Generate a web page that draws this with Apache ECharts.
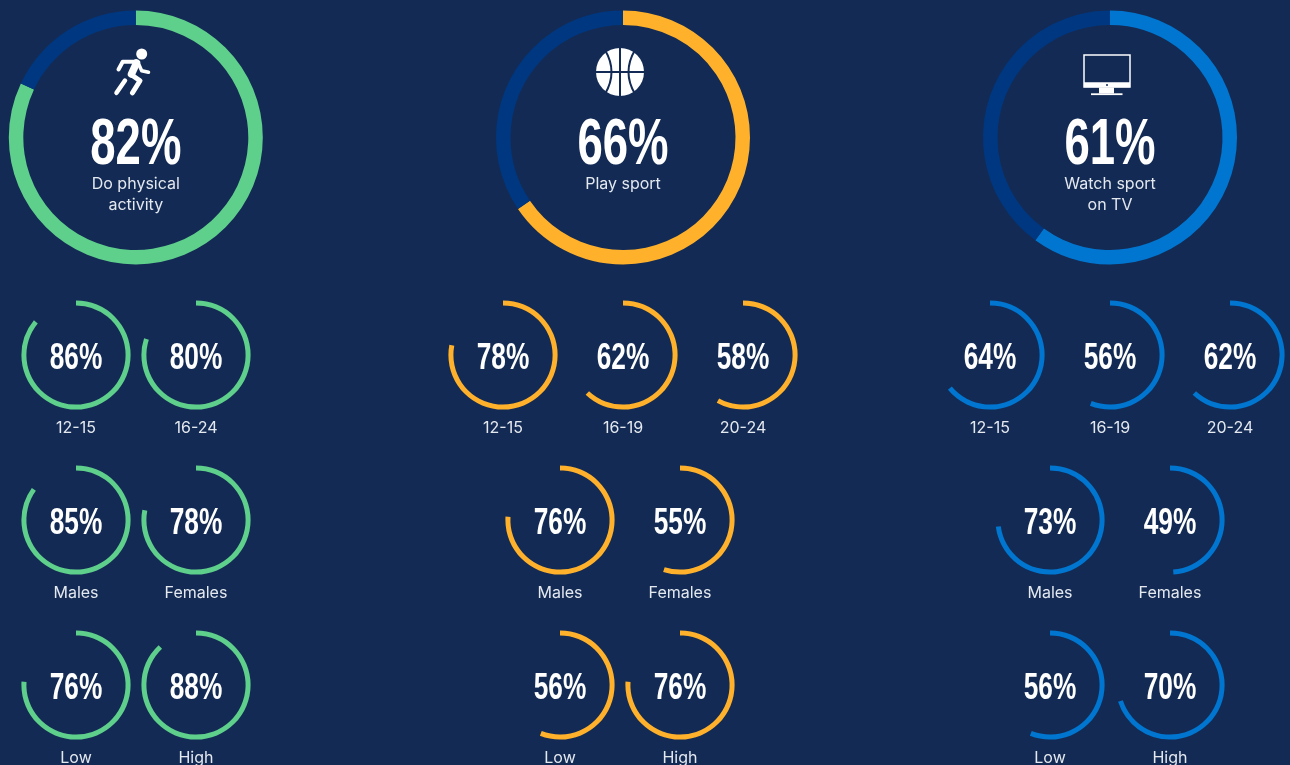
<!DOCTYPE html>
<html>
<head>
<meta charset="utf-8">
<style>
  html, body { margin: 0; padding: 0; background: #132b54; }
  #main { width: 1290px; height: 765px; }
</style>
<script src="https://cdn.jsdelivr.net/npm/echarts@6/dist/echarts.min.js"></script>
</head>
<body>
<div id="main"></div>
<script>
// headline values
const headTitles = [["Do physical", "activity"], ["Play sport"], ["Watch sport", "on TV"]];
const headValues = [82, 66, 61];
// the big arcs in the picture stop a little short of their printed numbers
const headArcs = [82, 65.5, 60];

// breakdown rows, one list per column
const ageLabels = [["12-15", "16-24"], ["12-15", "16-19", "20-24"], ["12-15", "16-19", "20-24"]];
const ageValues = [[86, 80], [78, 62, 58], [64, 56, 62]];
const genderLabels = ["Males", "Females"];
const genderValues = [[85, 78], [76, 55], [73, 49]];
const incomeLabels = ["Low", "High"];
const incomeValues = [[76, 88], [56, 76], [56, 70]];

const BG = "#132b54";
const TRACK = "#003781";
const COLORS = ["#5fcf8c", "#ffb12b", "#0076d1"];
const WHITE = "#ffffff";
const LABEL = "#e4e8ef";

const headX = [135.8, 623, 1110];
const ageX = [[76, 196], [503, 623, 743], [990, 1110, 1230]];
const pairX = [[76, 196], [560, 680], [1050, 1170]];
const rowY = [355, 520, 685];

const series = [];
const graphic = [];

function numText(x, y, str, size, scaleX) {
  graphic.push({
    type: "text", x: x, y: y, scaleX: scaleX, silent: true,
    style: {
      text: str, fill: WHITE, align: "center", verticalAlign: "middle",
      font: "bold " + size + "px 'Liberation Sans Narrow', 'Liberation Sans'",
    },
  });
}

function labelText(x, y, str) {
  graphic.push({
    type: "text", x: x, y: y, silent: true,
    style: { text: str, fill: LABEL, align: "center", verticalAlign: "middle", font: "16px Inter" },
  });
}

function ring(x, y, radius, value, color, track) {
  series.push({
    type: "pie", silent: true, animation: false, startAngle: 90, clockwise: true,
    center: [x, y], radius: radius,
    label: { show: false }, labelLine: { show: false },
    data: [
      { value: value, itemStyle: { color: color } },
      { value: 100 - value, itemStyle: { color: track } },
    ],
  });
}

function small(x, y, value, label, color) {
  ring(x, y, [49.6, 54.6], value, color, "transparent");
  numText(x, y + 4, value + "%", 37, 0.71);
  labelText(x, y + 73, label);
}

headValues.forEach((v, i) => {
  ring(headX[i], 137.5, [112.5, 127], headArcs[i], COLORS[i], TRACK);
  numText(headX[i], 146, v + "%", 65, 0.7);
  headTitles[i].forEach((t, k) => labelText(headX[i], 184 + k * 21, t));

  ageValues[i].forEach((a, k) => small(ageX[i][k], rowY[0], a, ageLabels[i][k], COLORS[i]));
  genderValues[i].forEach((a, k) => small(pairX[i][k], rowY[1], a, genderLabels[k], COLORS[i]));
  incomeValues[i].forEach((a, k) => small(pairX[i][k], rowY[2], a, incomeLabels[k], COLORS[i]));
});

// runner icon
const limb = (pts, w) => ({
  type: "polyline", silent: true,
  shape: { points: pts },
  style: { stroke: WHITE, lineWidth: w, fill: null, lineCap: "round", lineJoin: "round" },
});
graphic.push(
  { type: "circle", silent: true, shape: { cx: 141.7, cy: 54, r: 5.5 }, style: { fill: WHITE } },
  limb([[118.5, 69.5], [122.7, 61.7], [136.7, 61.7]], 4),
  limb([[138.3, 63.3], [141.7, 70.7], [148.5, 72.3]], 3.5),
  limb([[136.5, 63], [131.5, 74]], 7.5),
  limb([[131.7, 75], [140, 80.7], [132.5, 92.8]], 5),
  limb([[125, 80.5], [116.5, 92.8]], 4.5)
);

// basketball icon
const seamLine = (x1, y1, x2, y2) => ({
  type: "line", silent: true,
  shape: { x1: x1, y1: y1, x2: x2, y2: y2 },
  style: { stroke: BG, lineWidth: 2 },
});
const seamCurve = (x1, y1, cx, cy, x2, y2) => ({
  type: "bezierCurve", silent: true,
  shape: { x1: x1, y1: y1, cpx1: cx, cpy1: cy, x2: x2, y2: y2 },
  style: { stroke: BG, lineWidth: 2, fill: null },
});
graphic.push(
  { type: "circle", silent: true, shape: { cx: 620, cy: 72, r: 24 }, style: { fill: WHITE } },
  seamLine(620, 47, 620, 97),
  seamLine(595, 72, 645, 72),
  seamCurve(605, 50, 618, 72, 605, 94),
  seamCurve(635, 50, 622, 72, 635, 94)
);

// tv icon
graphic.push(
  { type: "rect", silent: true, shape: { x: 1084, y: 55, width: 46, height: 32 }, style: { stroke: WHITE, lineWidth: 1.5, fill: null } },
  { type: "rect", silent: true, shape: { x: 1084, y: 82.3, width: 46, height: 5 }, style: { fill: WHITE } },
  { type: "circle", silent: true, shape: { cx: 1107, cy: 85, r: 1 }, style: { fill: BG } },
  { type: "rect", silent: true, shape: { x: 1099, y: 87.5, width: 15, height: 6 }, style: { fill: WHITE } },
  { type: "rect", silent: true, shape: { x: 1091, y: 93.3, width: 31.5, height: 1.8 }, style: { fill: WHITE } }
);

const chart = echarts.init(document.getElementById("main"));
chart.setOption({
  backgroundColor: BG,
  animation: false,
  series: series,
  graphic: graphic,
});
</script>
</body>
</html>
